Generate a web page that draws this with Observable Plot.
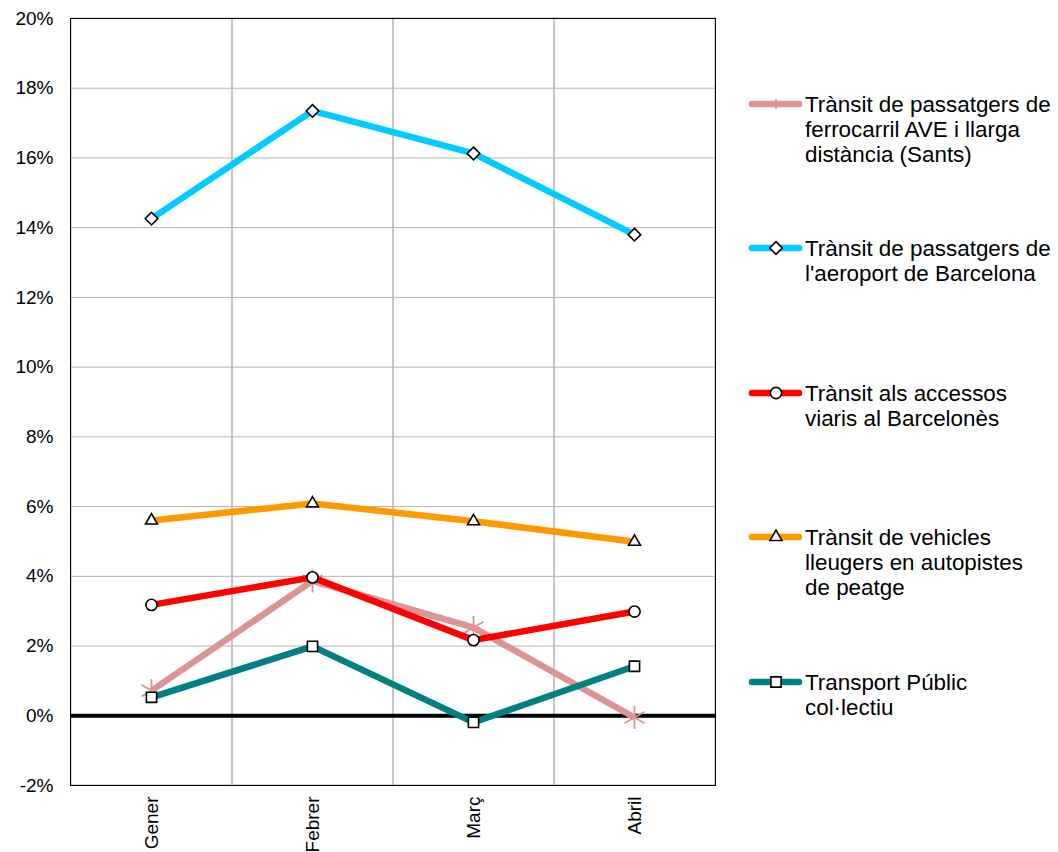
<!DOCTYPE html>
<html>
<head>
<meta charset="utf-8">
<script src="https://cdn.jsdelivr.net/npm/d3@7"></script>
<script src="https://cdn.jsdelivr.net/npm/@observablehq/plot@0.6"></script>
<style>
  html, body { margin: 0; padding: 0; background: #fff; }
  #wrap { position: relative; width: 1058px; height: 852px; font-family: "Liberation Sans", Arial, sans-serif; }
  #legend { position: absolute; left: 0; top: 0; width: 1058px; height: 852px; pointer-events: none; }
  .lg-text { position: absolute; left: 805px; font-size: 22.4px; line-height: 25px; color: #000; white-space: nowrap; }
</style>
</head>
<body>
<div id="wrap"><div id="chart"></div><div id="legend"></div></div>
<script>
const months = ["Gener", "Febrer", "Març", "Abril"];
const yTicks = [-2, 0, 2, 4, 6, 8, 10, 12, 14, 16, 18, 20];

const aveValues = [0.72, 3.87, 2.53, -0.05];
const airportValues = [14.26, 17.35, 16.13, 13.80];
const accessValues = [3.18, 3.97, 2.17, 2.99];
const tollValues = [5.60, 6.09, 5.58, 4.99];
const publicValues = [0.53, 1.99, -0.19, 1.42];

const seriesNames = [
  "Trànsit de passatgers de ferrocarril AVE i llarga distància (Sants)",
  "Trànsit de passatgers de l'aeroport de Barcelona",
  "Trànsit als accessos viaris al Barcelonès",
  "Trànsit de vehicles lleugers en autopistes de peatge",
  "Transport Públic col·lectiu"
];
const legendLines = [
  ["Trànsit de passatgers de", "ferrocarril AVE i llarga", "distància (Sants)"],
  ["Trànsit de passatgers de", "l'aeroport de Barcelona"],
  ["Trànsit als accessos", "viaris al Barcelonès"],
  ["Trànsit de vehicles", "lleugers en autopistes", "de peatge"],
  ["Transport Públic", "col·lectiu"]
];
const seriesValues = [aveValues, airportValues, accessValues, tollValues, publicValues];
const seriesColors = ["#d99694", "#00ccff", "#ff0000", "#ff9900", "#008080"];
const seriesSymbols = ["asterisk", "diamond2", "circle", "triangle2", "square2"];

const data = seriesNames.flatMap((s, i) => months.map((m, j) => ({series: s, idx: i, month: m, value: seriesValues[i][j]})));

const lineMarks = seriesNames.map((s, i) => Plot.line(data.filter(d => d.idx === i), {
  x: "month", y: "value", stroke: seriesColors[i], strokeWidth: 6.5, strokeLinejoin: "round", strokeLinecap: "butt", dx: -0.5
}));
const dotMarks = seriesNames.map((s, i) => {
  const dd = data.filter(d => d.idx === i);
  if (seriesSymbols[i] === "asterisk") {
    return Plot.dot(dd, {x: "month", y: "value", symbol: "asterisk", r: 11, stroke: seriesColors[i], strokeWidth: 1.8, fill: "none", dx: -0.5});
  }
  const r = seriesSymbols[i] === "circle" ? 5.6 : (seriesSymbols[i] === "square2" ? 6.5 : 5.7);
  return Plot.dot(dd, {x: "month", y: "value", symbol: seriesSymbols[i], r, stroke: "black", strokeWidth: 1.6, fill: "white", dx: -0.5});
});

const chart = Plot.plot({
  width: 1058, height: 852,
  marginLeft: 70, marginRight: 343, marginTop: 18, marginBottom: 67,
  style: {fontFamily: "'Liberation Sans', Arial, sans-serif", fontSize: "19px", color: "#000", background: "white", overflow: "visible"},
  x: {type: "band", domain: months, paddingInner: 0, paddingOuter: 0, label: null},
  y: {domain: [-2, 20], label: null},
  marks: [
    Plot.gridY(yTicks, {stroke: "#b3b3b3", strokeOpacity: 1, strokeWidth: 1}),
    Plot.cell(months, {x: d => d, fill: "none", stroke: "#b3b3b3", strokeWidth: 1}),
    Plot.ruleY([0], {stroke: "black", strokeWidth: 4}),
    ...lineMarks.flatMap((l, i) => [l, dotMarks[i]]),
    Plot.frame({stroke: "black", strokeWidth: 1}),
    Plot.axisY(yTicks, {tickSize: 0, tickPadding: 17, tickFormat: d => d + "%", fontSize: 19, label: null}),
    Plot.axisX({tickRotate: -90, tickSize: 0, tickPadding: 11, fontSize: 19, label: null})
  ]
});
document.getElementById("chart").appendChild(chart);

// Legend
const legendY = [104, 248, 393, 537, 682];
const legend = d3.select("#legend");
const lsvg = legend.append("svg").attr("width", 1058).attr("height", 852).style("position", "absolute").style("left", 0).style("top", 0);
const symGen = {
  asterisk: d3.symbolAsterisk, diamond2: d3.symbolDiamond2, circle: d3.symbolCircle,
  triangle2: d3.symbolTriangle2, square2: d3.symbolSquare2
};
seriesNames.forEach((s, i) => {
  const y = legendY[i];
  lsvg.append("line").attr("x1", 752).attr("x2", 799).attr("y1", y).attr("y2", y)
    .attr("stroke", seriesColors[i]).attr("stroke-width", 6.5).attr("stroke-linecap", "round");
  if (seriesSymbols[i] === "asterisk") {
    lsvg.append("path").attr("d", d3.symbol(symGen.asterisk, Math.PI * 5 * 5)())
      .attr("transform", `translate(776,${y})`).attr("stroke", seriesColors[i]).attr("stroke-width", 1.5).attr("fill", "none");
  } else {
    const r = seriesSymbols[i] === "circle" ? 5.6 : (seriesSymbols[i] === "square2" ? 6.5 : 5.7);
    lsvg.append("path").attr("d", d3.symbol(symGen[seriesSymbols[i]], Math.PI * r * r)())
      .attr("transform", `translate(776,${y})`).attr("stroke", "black").attr("stroke-width", 1.6).attr("fill", "white");
  }
  legend.append("div").attr("class", "lg-text").style("top", (y - 12.5) + "px")
    .html(legendLines[i].join("<br>"));
});
</script>
</body>
</html>
